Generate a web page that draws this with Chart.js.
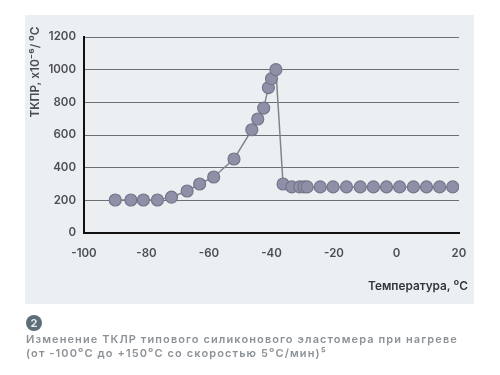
<!DOCTYPE html>
<html>
<head>
<meta charset="utf-8">
<script src="https://cdn.jsdelivr.net/npm/chart.js@4"></script>
<style>
  html, body { margin: 0; padding: 0; background: #fff; }
  #wrap { position: relative; width: 500px; height: 375px; overflow: hidden; font-family: "Inter", sans-serif; filter: blur(0.4px); }
  #panel { position: absolute; left: 25px; top: 15px; width: 449px; height: 289px; background: #eceff2; }
  canvas { position: absolute; left: 0; top: 0; }
  #badge { position: absolute; left: 26px; top: 315px; width: 16px; height: 16px; border-radius: 50%;
    background: #5d6e78; color: #e8ecee; font-size: 11px; font-weight: 700; line-height: 16px; text-align: center; }
  #caption { position: absolute; left: 26px; top: 332px; width: 460px; color: #8d9297; font-size: 11px;
    font-weight: 600; line-height: 14px; letter-spacing: 1.1px; white-space: nowrap; }
</style>
</head>
<body>
<div id="wrap">
  <div id="panel"></div>
  <canvas id="chart" width="500" height="375"></canvas>
  <div id="badge">2</div>
  <div id="caption">Изменение ТКЛР типового силиконового эластомера при нагреве<br>(от -100⁰С до +150⁰С со скоростью 5⁰С/мин)⁵</div>
</div>
<script>
const temperature = [-90, -85, -81, -76.5, -72, -67, -63, -58.5, -52, -46.3, -44.4, -42.5, -41, -40, -38.6, -36.3, -33.5, -31, -29.6, -28.6, -24.4, -20.3, -16, -11.6, -7.4, -3.2, 1, 5.4, 9.6, 13.8, 18];
const cte = [202, 202, 202, 202, 220, 257, 300, 343, 453, 632, 698, 765, 890, 945, 1000, 300, 282, 282, 282, 282, 282, 282, 282, 282, 282, 282, 282, 282, 282, 282, 282];
const xTicks = [-100, -80, -60, -40, -20, 0, 20];
const yTicks = [0, 200, 400, 600, 800, 1000, 1200];
const yTitle = "ТКПР, х10⁻⁶/ ⁰С";
const xTitle = "Температура, ⁰С";

const points = temperature.map((t, i) => ({ x: t, y: cte[i] }));
const tickFont = { family: "Inter", size: 11.5, weight: "600" };

// axis titles stick out past the plot area, so they are drawn by hand
const axisTitles = {
  id: "axis_titles",
  afterDraw: (chart) => {
    const ctx = chart.ctx;
    ctx.save();
    ctx.font = "600 11.8px Inter";
    ctx.fillStyle = "#33363a";
    ctx.textAlign = "right";
    ctx.textBaseline = "middle";
    ctx.fillText(xTitle, 468, 286);
    ctx.translate(35, 72);
    ctx.rotate(-Math.PI / 2);
    ctx.textAlign = "center";
    ctx.fillStyle = "#4a4d52";
    ctx.fillText(yTitle, 0, 0);
    ctx.restore();
  },
};

new Chart(document.getElementById("chart").getContext("2d"), {
  type: "scatter",
  data: {
    datasets: [{
      data: points,
      showLine: true,
      borderColor: "#7f8588",
      borderWidth: 1.5,
      pointRadius: 6,
      pointHoverRadius: 6,
      pointBackgroundColor: "#8f8fa8",
      pointBorderColor: "#74768a",
      pointBorderWidth: 1.2,
    }],
  },
  options: {
    responsive: false,
    animation: false,
    layout: { padding: { left: 26, right: 41, top: 37, bottom: 66 } },
    plugins: { legend: { display: false }, tooltip: { enabled: false } },
    scales: {
      x: {
        type: "linear",
        min: -100,
        max: 20,
        afterBuildTicks: (axis) => { axis.ticks = xTicks.map((v) => ({ value: v })); },
        afterFit: (axis) => { axis.height = 76; },
        grid: { display: false, drawTicks: false },
        border: { display: true, color: "#111", width: 2 },
        ticks: { color: "#4a4d52", font: tickFont, padding: 14, maxRotation: 0, autoSkip: false, callback: (v) => String(v) },
      },
      y: {
        min: 0,
        max: 1200,
        afterBuildTicks: (axis) => { axis.ticks = yTicks.map((v) => ({ value: v })); },
        afterFit: (axis) => { axis.width = 58; },
        grid: { color: "#6d7072", lineWidth: 1, drawTicks: false },
        border: { display: true, color: "#111", width: 2 },
        ticks: { color: "#4a4d52", font: tickFont, padding: 8, callback: (v) => String(v) },
      },
    },
  },
  plugins: [axisTitles],
});
</script>
</body>
</html>
